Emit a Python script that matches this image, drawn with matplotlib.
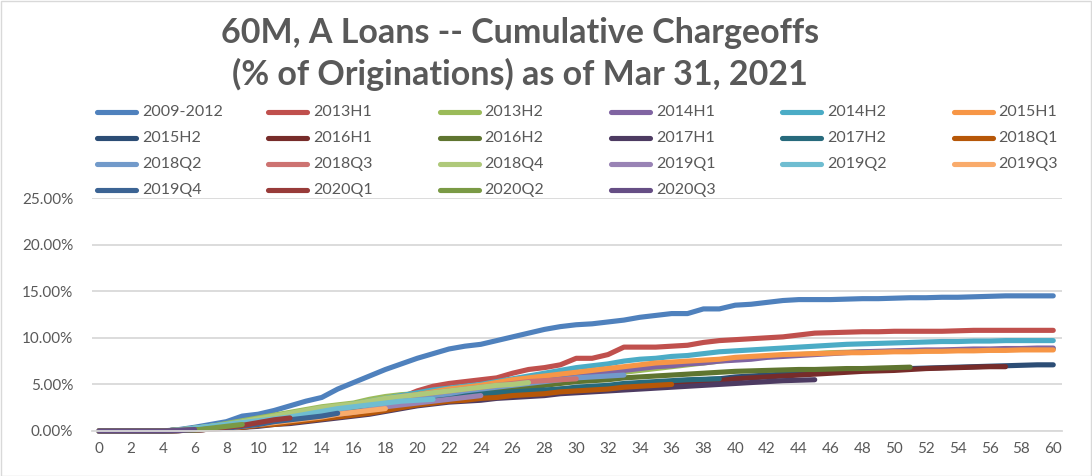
import matplotlib
matplotlib.use("Agg")
import matplotlib.pyplot as plt
from matplotlib.lines import Line2D
from matplotlib.patches import Rectangle
from matplotlib.ticker import FuncFormatter

# ---------------- data ----------------
series_names = ["2009-2012", "2013H1", "2013H2", "2014H1", "2014H2", "2015H1",
                "2015H2", "2016H1", "2016H2", "2017H1", "2017H2", "2018Q1",
                "2018Q2", "2018Q3", "2018Q4", "2019Q1", "2019Q2", "2019Q3",
                "2019Q4", "2020Q1", "2020Q2", "2020Q3"]

colors = ["#4F81BD", "#C0504D", "#9BBB59", "#8064A2", "#4BACC6", "#F79646",
          "#2C4D75", "#772C2A", "#5F7530", "#4D3B62", "#276A7C", "#B65708",
          "#729ACA", "#CD7371", "#AFC97A", "#9983B5", "#6FBDD1", "#F9AB6B",
          "#3C6494", "#983B39", "#7A9A45", "#664E85"]

v2009_2012 = [0, 0, 0, 0, 0, 0.15, 0.4, 0.7, 1.0, 1.6,
              1.8, 2.2, 2.7, 3.2, 3.6, 4.5, 5.2, 5.9, 6.6, 7.2,
              7.8, 8.3, 8.8, 9.1, 9.3, 9.7, 10.1, 10.5, 10.9, 11.2,
              11.4, 11.5, 11.7, 11.9, 12.2, 12.4, 12.6, 12.6, 13.1, 13.1,
              13.5, 13.6, 13.8, 14.0, 14.1, 14.1, 14.1, 14.15, 14.2, 14.2,
              14.25, 14.3, 14.3, 14.35, 14.35, 14.4, 14.45, 14.5, 14.5, 14.5, 14.5]
v2013H1 = [0, 0, 0, 0, 0, 0.1, 0.2, 0.3, 0.5, 0.7,
           0.9, 1.1, 1.4, 1.7, 2.0, 2.3, 2.6, 2.9, 3.2, 3.6,
           4.3, 4.8, 5.1, 5.3, 5.5, 5.7, 6.2, 6.6, 6.8, 7.1,
           7.8, 7.8, 8.2, 9.0, 9.0, 9.0, 9.1, 9.2, 9.5, 9.7,
           9.8, 9.9, 10.0, 10.1, 10.3, 10.5, 10.55, 10.6, 10.65, 10.65,
           10.7, 10.7, 10.7, 10.7, 10.75, 10.8, 10.8, 10.8, 10.8, 10.8, 10.8]
v2013H2 = [0, 0, 0, 0, 0, 0.1, 0.3, 0.5, 0.8, 1.1,
           1.4, 1.7, 2.0, 2.3, 2.6, 2.8, 3.0, 3.4, 3.7, 3.9,
           4.0, 4.1, 4.3, 4.5, 4.7, 4.9, 5.0, 5.2, 5.4, 5.6,
           5.8, 6.0, 6.1, 6.3, 6.5, 6.7, 6.9, 7.1, 7.3, 7.5,
           7.7, 7.8, 8.0, 8.1, 8.2, 8.3, 8.4, 8.45, 8.5, 8.5,
           8.55, 8.6, 8.6, 8.65, 8.65, 8.7, 8.7, 8.75, 8.75, 8.8, 8.8]
v2014H1 = [0, 0, 0, 0, 0, 0.1, 0.2, 0.4, 0.6, 0.8,
           1.0, 1.3, 1.6, 1.9, 2.2, 2.5, 2.8, 3.1, 3.4, 3.7,
           4.0, 4.2, 4.4, 4.6, 4.8, 5.0, 5.2, 5.4, 5.6, 5.8,
           5.9, 6.1, 6.3, 6.5, 6.7, 6.9, 7.0, 7.2, 7.3, 7.5,
           7.6, 7.7, 7.9, 8.0, 8.1, 8.2, 8.3, 8.4, 8.5, 8.55,
           8.6, 8.65, 8.7, 8.7, 8.75, 8.8, 8.8, 8.85, 8.85, 8.9, 8.9]
v2014H2 = [0, 0, 0, 0, 0, 0.1, 0.3, 0.5, 0.7, 1.0,
           1.2, 1.5, 1.8, 2.1, 2.3, 2.6, 2.9, 3.2, 3.5, 3.8,
           4.1, 4.4, 4.6, 4.8, 5.0, 5.3, 5.6, 5.9, 6.2, 6.5,
           6.8, 7.0, 7.2, 7.5, 7.7, 7.8, 8.0, 8.1, 8.3, 8.5,
           8.6, 8.7, 8.8, 8.9, 9.0, 9.1, 9.2, 9.3, 9.35, 9.4,
           9.45, 9.5, 9.55, 9.6, 9.6, 9.65, 9.65, 9.7, 9.7, 9.7, 9.7]
v2015H1 = [0, 0, 0, 0, 0, 0.1, 0.2, 0.4, 0.6, 0.8,
           1.0, 1.2, 1.5, 1.8, 2.1, 2.4, 2.7, 3.0, 3.3, 3.6,
           3.9, 4.2, 4.5, 4.7, 4.9, 5.2, 5.5, 5.7, 5.9, 6.1,
           6.3, 6.5, 6.7, 6.9, 7.1, 7.3, 7.4, 7.5, 7.6, 7.7,
           7.9, 8.0, 8.1, 8.2, 8.25, 8.3, 8.35, 8.4, 8.4, 8.45,
           8.5, 8.5, 8.55, 8.55, 8.6, 8.6, 8.65, 8.65, 8.7, 8.7, 8.7]
v2015H2 = [0, 0, 0, 0, 0, 0.1, 0.2, 0.3, 0.4, 0.6,
           0.8, 1.0, 1.2, 1.4, 1.6, 1.8, 2.0, 2.3, 2.6, 2.9,
           3.1, 3.3, 3.5, 3.7, 3.9, 4.0, 4.1, 4.2, 4.3, 4.5,
           4.6, 4.7, 4.8, 4.9, 5.0, 5.2, 5.3, 5.4, 5.5, 5.6,
           5.8, 5.9, 6.0, 6.1, 6.2, 6.3, 6.4, 6.5, 6.55, 6.6,
           6.65, 6.7, 6.75, 6.8, 6.85, 6.9, 6.95, 7.0, 7.05, 7.1, 7.1]
v2016H1 = [0, 0, 0, 0, 0, 0.05, 0.1, 0.2, 0.3, 0.4,
           0.6, 0.8, 0.9, 1.1, 1.3, 1.5, 1.7, 1.9, 2.2, 2.5,
           2.8, 3.0, 3.2, 3.4, 3.6, 3.8, 3.9, 4.0, 4.1, 4.3,
           4.4, 4.5, 4.6, 4.8, 4.9, 5.0, 5.1, 5.2, 5.3, 5.4,
           5.6, 5.7, 5.8, 5.9, 6.0, 6.1, 6.2, 6.3, 6.4, 6.45,
           6.5, 6.6, 6.7, 6.75, 6.8, 6.85, 6.9, 6.9]
v2016H2 = [0, 0, 0, 0, 0, 0.1, 0.2, 0.3, 0.5, 0.7,
           0.9, 1.1, 1.3, 1.5, 1.7, 1.9, 2.1, 2.4, 2.7, 3.0,
           3.3, 3.5, 3.7, 3.9, 4.1, 4.3, 4.5, 4.7, 4.9, 5.1,
           5.3, 5.4, 5.5, 5.7, 5.8, 5.9, 6.0, 6.1, 6.2, 6.3,
           6.4, 6.45, 6.5, 6.55, 6.6, 6.6, 6.65, 6.7, 6.7, 6.75,
           6.8, 6.85]
v2017H1 = [0, 0, 0, 0, 0, 0.05, 0.1, 0.2, 0.3, 0.4,
           0.5, 0.7, 0.8, 1.0, 1.2, 1.4, 1.6, 1.8, 2.1, 2.4,
           2.7, 2.9, 3.1, 3.2, 3.3, 3.5, 3.6, 3.7, 3.8, 4.0,
           4.1, 4.2, 4.3, 4.4, 4.5, 4.6, 4.7, 4.8, 4.9, 5.0,
           5.1, 5.2, 5.3, 5.4, 5.45, 5.5]
v2017H2 = [0, 0, 0, 0, 0, 0.1, 0.2, 0.3, 0.4, 0.6,
           0.8, 1.0, 1.2, 1.4, 1.6, 1.8, 2.0, 2.3, 2.6, 2.9,
           3.2, 3.4, 3.6, 3.8, 4.0, 4.1, 4.2, 4.3, 4.4, 4.5,
           4.7, 4.8, 4.9, 5.1, 5.2, 5.3, 5.4, 5.5, 5.55, 5.6]
v2018Q1 = [0, 0, 0, 0, 0, 0.05, 0.1, 0.2, 0.3, 0.4,
           0.6, 0.7, 0.9, 1.1, 1.3, 1.5, 1.7, 1.9, 2.2, 2.5,
           2.8, 3.0, 3.2, 3.3, 3.5, 3.6, 3.8, 3.9, 4.0, 4.2,
           4.3, 4.4, 4.5, 4.7, 4.8, 4.9, 5.0]
v2018Q2 = [0, 0, 0, 0, 0, 0.1, 0.2, 0.4, 0.6, 0.8,
           1.0, 1.2, 1.4, 1.7, 2.0, 2.3, 2.6, 2.9, 3.2, 3.4,
           3.6, 3.8, 4.0, 4.3, 4.5, 4.7, 4.9, 5.1, 5.3, 5.5,
           5.7, 5.8, 5.9, 6.0]
v2018Q3 = [0, 0, 0, 0, 0, 0.1, 0.2, 0.4, 0.6, 0.8,
           1.0, 1.3, 1.6, 1.9, 2.2, 2.5, 2.8, 3.1, 3.4, 3.7,
           3.9, 4.1, 4.3, 4.5, 4.7, 4.9, 5.1, 5.3, 5.4, 5.5,
           5.6]
v2018Q4 = [0, 0, 0, 0, 0, 0.1, 0.3, 0.5, 0.7, 1.0,
           1.3, 1.6, 1.9, 2.2, 2.5, 2.7, 2.9, 3.2, 3.5, 3.7,
           3.9, 4.1, 4.3, 4.5, 4.7, 4.9, 5.0, 5.2]
v2019Q1 = [0, 0, 0, 0, 0, 0.05, 0.1, 0.2, 0.4, 0.6,
           0.8, 1.0, 1.2, 1.4, 1.6, 1.8, 2.0, 2.3, 2.6, 2.8,
           3.0, 3.2, 3.4, 3.6, 3.8]
v2019Q2 = [0, 0, 0, 0, 0, 0.1, 0.3, 0.5, 0.7, 0.9,
           1.1, 1.3, 1.5, 1.8, 2.1, 2.4, 2.6, 2.8, 3.0, 3.2,
           3.3, 3.4]
v2019Q3 = [0, 0, 0, 0, 0, 0.05, 0.1, 0.2, 0.3, 0.5,
           0.7, 0.9, 1.1, 1.3, 1.5, 1.8, 2.0, 2.2, 2.4]
v2019Q4 = [0, 0, 0, 0, 0, 0.05, 0.1, 0.2, 0.3, 0.5,
           0.7, 1.0, 1.2, 1.4, 1.6, 1.9]
v2020Q1 = [0, 0, 0, 0, 0, 0.05, 0.1, 0.2, 0.4, 0.6,
           0.9, 1.2, 1.4]
v2020Q2 = [0, 0, 0, 0, 0, 0.05, 0.1, 0.3, 0.5, 0.7]
v2020Q3 = [0, 0, 0, 0, 0, 0.05, 0.15]

series_values = [v2009_2012, v2013H1, v2013H2, v2014H1, v2014H2, v2015H1,
                 v2015H2, v2016H1, v2016H2, v2017H1, v2017H2, v2018Q1,
                 v2018Q2, v2018Q3, v2018Q4, v2019Q1, v2019Q2, v2019Q3,
                 v2019Q4, v2020Q1, v2020Q2, v2020Q3]

title_text = "60M, A Loans -- Cumulative Chargeoffs\n(% of Originations) as of Mar 31, 2021"
y_ticks = [0, 5, 10, 15, 20, 25]
x_ticks = list(range(0, 61, 2))

# ---------------- figure ----------------
W, H = 1092, 476
fig = plt.figure(figsize=(W / 100, H / 100), dpi=100)
fig.patch.set_facecolor("white")

TXT = "#595959"
GRID = "#D9D9D9"
FONT = "Lato"
LW = 3.7

ax = fig.add_axes([92 / W, (H - 431) / H, 970 / W, 233 / H])
for name, vals, col in zip(series_names, series_values, colors):
    ax.plot(range(len(vals)), vals, color=col, lw=LW,
            solid_capstyle="round", solid_joinstyle="round", clip_on=False,
            label=name)

ax.set_xlim(-0.45, 60.55)
ax.set_ylim(0, 25)
ax.set_yticks(y_ticks)
ax.set_xticks(x_ticks)
ax.yaxis.set_major_formatter(FuncFormatter(lambda v, p: f"{v:.2f}%"))
ax.grid(axis="y", color=GRID, lw=1.3)
ax.set_axisbelow(True)
for s in ["left", "right", "top"]:
    ax.spines[s].set_visible(False)
ax.spines["bottom"].set_color(GRID)
ax.spines["bottom"].set_linewidth(1.3)
ax.tick_params(axis="both", length=0, labelcolor=TXT, labelsize=11)
ax.tick_params(axis="y", pad=13.5)
ax.tick_params(axis="x", pad=8)
for lab in ax.get_xticklabels() + ax.get_yticklabels():
    lab.set_fontfamily(FONT)

# title
fig.text(520 / W, 1 - 54 / H, title_text, ha="center", va="center",
         fontsize=24.5, fontweight="bold", color=TXT, family=FONT,
         linespacing=1.3)

# legend (Excel style: equal-width columns)
for i, (name, col) in enumerate(zip(series_names, colors)):
    c, r = i % 6, i // 6
    x0 = 97 + c * 171.3
    y0 = 112 + r * 26
    fig.add_artist(Line2D([x0 / W, (x0 + 39) / W], [1 - y0 / H, 1 - y0 / H],
                          color=col, lw=LW, solid_capstyle="round",
                          transform=fig.transFigure))
    fig.text((x0 + 45) / W, 1 - y0 / H, name, ha="left", va="center",
             fontsize=11.5, color=TXT, family=FONT)

# chart border
fig.add_artist(Rectangle((0.5 / W, 0.5 / H), 1 - 1.5 / W, 1 - 1.5 / H,
                         transform=fig.transFigure, fill=False,
                         edgecolor=GRID, lw=1))

fig.savefig("out.png", dpi=100, facecolor="white")
